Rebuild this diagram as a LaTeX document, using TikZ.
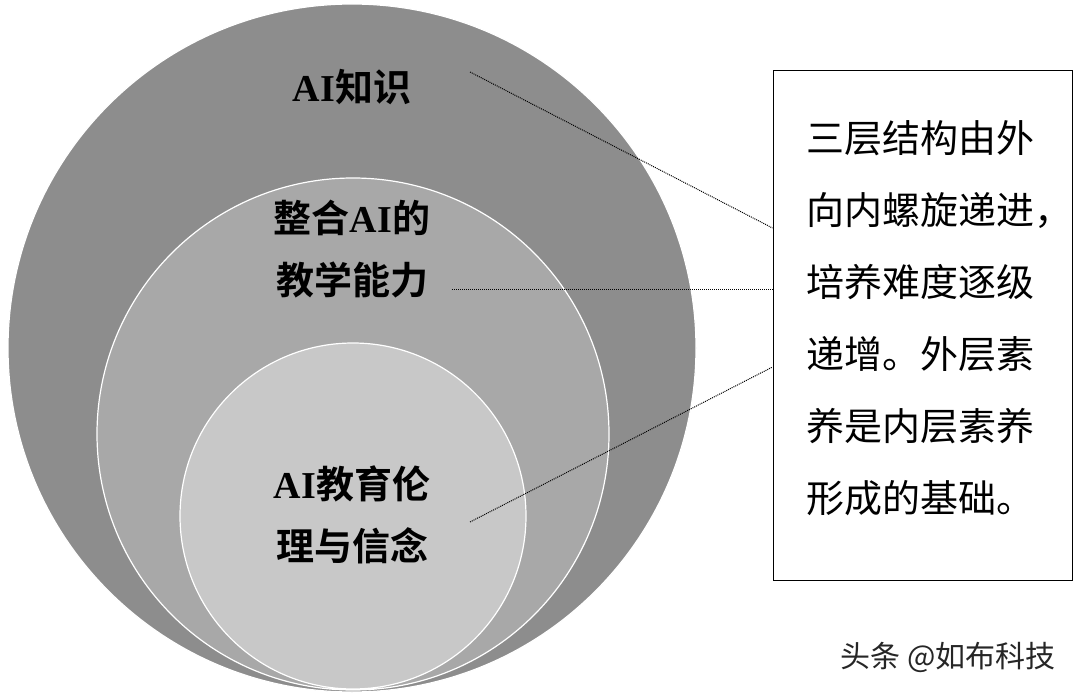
\documentclass[tikz,border=0pt]{standalone}
\usepackage{fontspec}
\setmainfont{Liberation Serif}
\newfontfamily\cjk{Noto Sans CJK SC}
\newfontfamily\cjkb{Noto Sans CJK SC}[BoldFont={* Bold}]
\begin{document}
\begin{tikzpicture}[x=1pt,y=-1pt,
  ring/.style={draw=white,line width=1.2pt},
  lbl/.style={font=\fontsize{38}{62}\selectfont\bfseries\cjkb,align=center,text=black},
  link/.style={densely dotted,line width=1pt,black}]
\useasboundingbox (0,0) rectangle (1080,693);
\fill[white] (0,0) rectangle (1080,693);
\fill[fill={rgb,255:red,141;green,141;blue,141}] (352,348) circle (344);
\fill[fill={rgb,255:red,168;green,168;blue,168}] (353,434) circle (256);
\fill[fill={rgb,255:red,200;green,200;blue,200}] (353,516) circle (173);
\draw[white,line width=1.2pt] (352,348) circle (344) (353,434) circle (256) (353,516) circle (173);
\node[lbl] (k) at (352,87) {\textrm{\bfseries AI}知识};
\node[lbl] (t) at (352,249) {整合\textrm{\bfseries AI}的\\教学能力};
\node[lbl] (e) at (352,515) {\textrm{\bfseries AI}教育伦\\理与信念};
\node[draw=black,line width=1pt,minimum width=299,minimum height=509,inner sep=0] (box) at (922.5,325.5) {};
\node[font=\fontsize{38}{72}\selectfont\cjk,align=left,anchor=north west,inner sep=0] at (806,120) {三层结构由外\\向内螺旋递进，\\培养难度逐级\\递增。外层素\\养是内层素养\\形成的基础。};
\coordinate (k1) at (470,72);
\coordinate (t1) at (452,289);
\coordinate (e1) at (470,522);
\draw[link] (k1) -- (box.west |- 0,228);
\draw[link] (t1) -- (box.west |- 0,289);
\draw[link] (e1) -- (box.west |- 0,367);
\node[font=\fontsize{30}{34}\selectfont\cjk,text=black!85] (w) at (948,657) {头条 @如布科技};
\end{tikzpicture}
\end{document}
